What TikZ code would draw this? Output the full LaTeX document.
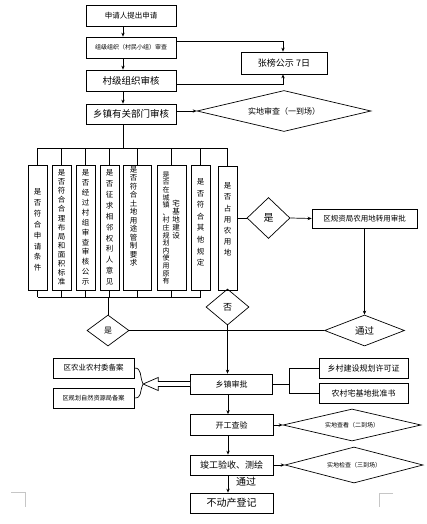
\documentclass[tikz,border=0pt]{standalone}
\usepackage{fontspec}
\setmainfont{Noto Sans CJK SC}
\usetikzlibrary{shapes.geometric,arrows.meta,calc}
\tikzset{
 box/.style={draw, inner sep=0pt},
 dia/.style={draw, diamond, inner sep=0pt},
 arr/.style={-{Stealth[length=4pt,width=3.4pt]}},
 colbox/.style={draw, inner sep=0pt, minimum height=125pt},
 ct/.style={font=\fontsize{7.5}{#1}\selectfont, align=center, inner sep=0pt},
 fs/.style={font=\fontsize{#1}{#1}\selectfont},
 corner/.style={draw=gray!45, line width=0.6pt}
}
\begin{document}
\begin{tikzpicture}[x=1pt,y=-1pt,line width=0.7pt]
\useasboundingbox (0,0) rectangle (427,524);
\fill[white] (0,0) rectangle (427,524);
% top chain
\node[box, minimum width=90pt, minimum height=21pt, fs=7.5] (b1) at (131,15.5) {申请人提出申请};
\node[box, minimum width=90pt, minimum height=21pt, fs=6] (b2) at (131,47.5) {组级组织（村民小组）审查};
\node[box, minimum width=90pt, minimum height=21pt, fs=9.5] (b3) at (131,80.5) {村级组织审核};
\node[box, minimum width=90pt, minimum height=20pt, fs=9.5] (b4) at (131,114) {乡镇有关部门审核};
\node[box, minimum width=86pt, minimum height=22pt, fs=9] (gs) at (284,63) {张榜公示 7日};
\node[dia, minimum width=174pt, minimum height=41pt, aspect=4.2, fs=8] (d1) at (284,111) {实地审查（一到场）};
\draw[arr] ([xshift=-8pt]b1.south) -- ([xshift=-8pt]b2.north);
\draw[arr] ([xshift=-8pt]b2.south) -- ([xshift=-8pt]b3.north);
\draw[arr] ([xshift=-8pt]b3.south) -- ([xshift=-8pt]b4.north);
\draw[arr] ([yshift=6.5pt]b2.east) -| ([xshift=-1pt]gs.north);
\draw[arr] ([yshift=-3.5pt]b3.east) -| ([xshift=-1pt]gs.south);
\draw[arr] ([yshift=3pt]b4.east) -- (d1.west);
% columns
\node[colbox, minimum width=19pt] (c1) at (37.5,227.5) {};
\node[colbox, minimum width=19pt] (c2) at (61.5,227.5) {};
\node[colbox, minimum width=19pt] (c3) at (85.5,227.5) {};
\node[colbox, minimum width=19pt] (c4) at (109.5,227.5) {};
\node[colbox, minimum width=28pt] (c5) at (137,227.5) {};
\node[colbox, minimum width=29pt] (c6) at (171.5,227.5) {};
\node[colbox, minimum width=19pt] (c7) at (200.5,227.5) {};
\node[colbox, minimum width=19pt, minimum height=124pt] (c8) at (227.5,228) {};
\node[ct=10.9] (t1) at (37.5,230) {是\\否\\符\\合\\申\\请\\条\\件};
\node[ct=9.1] (t2) at (61.5,227.5) {是\\否\\符\\合\\合\\理\\布\\局\\和\\面\\积\\标\\准};
\node[ct=9.9] (t3) at (85.5,227.5) {是\\否\\经\\过\\村\\组\\审\\查\\审\\核\\公\\示};
\node[ct=10.9] (t4) at (109.5,227.5) {是\\否\\征\\求\\相\\邻\\权\\利\\人\\意\\见};
\node[ct=8.5] (t5) at (133.5,216.5) {是\\否\\符\\合\\土\\地\\用\\途\\管\\制\\要\\求};
\node[ct=7.6, font=\fontsize{7}{7.6}\selectfont] (t6) at (166,228) {是\\否\\在\\城\\镇\\、\\村\\庄\\规\\划\\内\\使\\用\\原\\有};
\node[ct=8] (t6b) at (176,220) {宅\\基\\地\\建\\设};
\node[ct=11.6] (t7) at (200.5,222.5) {是\\否\\符\\合\\其\\他\\规\\定};
\node[ct=11.2] (t8) at (227.5,219.5) {是\\否\\占\\用\\农\\用\\地};
% top bus
\coordinate (bus) at (123,148);
\draw ([xshift=-8pt]b4.south) -- (bus);
\draw (c1.north |- bus) -- (c8.north |- bus);
\foreach \c in {c1,c2,c3,c4,c5,c6,c7,c8} \draw (\c.north |- bus) -- (\c.north);
% bottom bus
\coordinate (bbus) at (108,297);
\foreach \c in {c1,c2,c3,c4,c5,c6,c7} \draw (\c.south) -- (\c.south |- bbus);
\draw (c1.south |- bbus) -- (c7.south |- bbus);
% decisions
\node[dia, minimum width=42pt, minimum height=31pt, aspect=1.35, fs=8] (dy) at (108,330.5) {是};
\node[dia, minimum width=43pt, minimum height=36pt, aspect=1.2, fs=9] (dn) at (227.5,307) {否};
\node[dia, minimum width=43pt, minimum height=41pt, aspect=1, fs=10] (ds) at (268.5,218) {是};
\node[box, minimum width=105pt, minimum height=19pt, fs=7.5] (nz) at (364.5,218.5) {区规资局农用地转用审批};
\node[dia, minimum width=80pt, minimum height=31pt, aspect=2.6, fs=9.5] (tg) at (364.5,330.5) {通过};
\draw (bbus) -- (dy.north);
\draw (c8.south) -- (dn.north);
\draw (ds.west -| c8.east) -- (ds.west);
\draw[arr] (ds.east) -- (nz.west);
\draw[arr] (nz.south) -- (tg.north);
\draw (dy.east) -- (tg.west);
% approval
\node[box, minimum width=82pt, minimum height=20pt, fs=8] (sp) at (231.5,384) {乡镇审批};
\draw[arr] (dn.south) -- (dn.south |- sp.north);
\node[box, minimum width=81pt, minimum height=20pt, fs=7.5] (ba1) at (93.5,368) {区农业农村委备案};
\node[box, minimum width=81pt, minimum height=20pt, fs=6.2] (ba2) at (93.5,398) {区规划自然资源局备案};
\coordinate (tip) at ($(sp.west)+(-47,0)$);
\draw[fill=white] ($(sp.west)+(0,-2.5)$) -- ($(sp.west)+(-32,-2.5)$) -- ($(sp.west)+(-32,-6.5)$) -- (tip) -- ($(sp.west)+(-32,6.5)$) -- ($(sp.west)+(-32,2.5)$) -- ($(sp.west)+(0,2.5)$);
\draw (ba1.east) .. controls +(8,0) and +(-4,-8) .. (tip);
\draw (ba2.east) .. controls +(8,0) and +(-4,8) .. (tip);
\node[box, minimum width=89pt, minimum height=20pt, fs=8] (r1) at (363.5,368) {乡村建设规划许可证};
\node[box, minimum width=89pt, minimum height=20pt, fs=8] (r2) at (363.5,393) {农村宅基地批准书};
\coordinate (rj) at (289,384);
\draw (sp.east) -- (rj);
\draw (r1.west -| rj) -- (r2.west -| rj);
\draw (r1.west -| rj) -- (r1.west);
\draw (r2.west -| rj) -- (r2.west);
% construction
\node[box, minimum width=83pt, minimum height=21pt, fs=8] (kg) at (231.5,425) {开工查验};
\node[dia, minimum width=138pt, minimum height=32pt, aspect=4.3, fs=6] (dk) at (352,425) {实地查看（二到场）};
\node[box, minimum width=83pt, minimum height=20pt, fs=9] (jg) at (231.5,465) {竣工验收、测绘};
\node[dia, minimum width=138pt, minimum height=36pt, aspect=3.8, fs=6] (dj) at (354,465) {实地检查（三到场）};
\node[box, minimum width=83pt, minimum height=20pt, fs=10] (bd) at (231.5,503) {不动产登记};
\node[fs=10, inner sep=0pt] (tgl) at (246,482) {通过};
\draw[arr] ([xshift=-3.5pt]sp.south) -- ([xshift=-3.5pt]kg.north);
\draw[arr] ([xshift=-3.5pt]kg.south) -- ([xshift=-3.5pt]jg.north);
\draw[arr] ([xshift=-3.5pt]jg.south) -- ([xshift=-3.5pt]bd.north);
\draw[arr] (kg.east) -- (dk.west);
\draw[arr] (jg.east) -- (dj.west);
% corner marks
\draw[corner] (11,492) -- (25.5,492) -- (25.5,507);
\draw[corner] (393,493) -- (379,493) -- (379,507);
\end{tikzpicture}
\end{document}
